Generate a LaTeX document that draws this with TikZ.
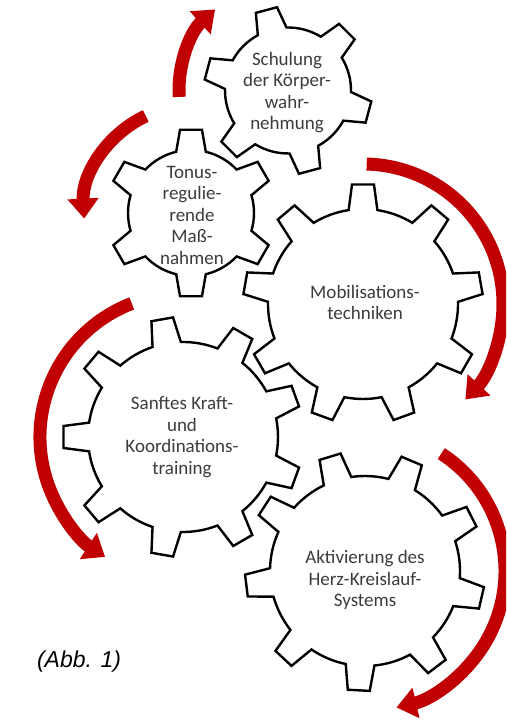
\documentclass[tikz,border=0pt]{standalone}
\usepackage{fontspec}
\setmainfont{Carlito}
\newfontfamily\abbfont{Liberation Sans}
\usetikzlibrary{arrows.meta}
\definecolor{arrowred}{RGB}{192,0,0}
\definecolor{txtgray}{RGB}{60,60,60}
% #1 center name, #2 teeth, #3 offset angle, #4 outer R, #5 root r, #6 outer half-angle, #7 root half-angle
\newcommand\drawgear[7]{%
  \pgfmathsetmacro\gstep{360/#2}%
  \draw[gearline,shift={(#1)}] ({#3-#7}:#5)
  \foreach \k in {1,...,#2}{ -- ({#3+(\k-1)*\gstep-#7}:#5) -- ({#3+(\k-1)*\gstep-#6}:#4) -- ({#3+(\k-1)*\gstep+#6}:#4) -- ({#3+(\k-1)*\gstep+#7}:#5) arc[start angle={#3+(\k-1)*\gstep+#7}, end angle={#3+\k*\gstep-#7}, radius=#5] } -- cycle;%
}
\begin{document}
\begin{tikzpicture}[x=1pt,y=1pt,
  gearline/.style={draw=black, line width=2.4pt, fill=white, line join=miter},
  geartext/.style={align=center, text=txtgray, font=\fontsize{19}{21.5}\selectfont, inner sep=0pt},
  cyclearrow/.style={draw=arrowred, line width=13pt, -{Triangle[width=30pt,length=20pt]}},
]
\useasboundingbox (0,0) rectangle (506,725);
\clip (0,0) rectangle (506,725);

% gear centres
\coordinate (S) at (288,634.5);
\coordinate (T) at (191,512);
\coordinate (M) at (363,421);
\coordinate (K) at (183,288);
\coordinate (A) at (365,154);

% arrows
\draw[cyclearrow] ([shift={(183.4:109)}]S) arc[start angle=183.4, end angle=132, radius=109];
\draw[cyclearrow] ([shift={(115:107)}]T) arc[start angle=115, end angle=183, radius=107];
\draw[cyclearrow] ([shift={(88.5:140)}]M) arc[start angle=88.5, end angle=-43, radius=140];
\draw[cyclearrow] ([shift={(111:143)}]K) arc[start angle=111, end angle=237, radius=143];
\draw[cyclearrow] ([shift={(57:140)}]A) arc[start angle=57, end angle=-77, radius=140];

% gears
\drawgear{S}{6}{105}{84}{63}{7.5}{13.6}
\drawgear{T}{6}{90}{84}{63}{7.5}{13.6}
\drawgear{M}{9}{90}{120}{95}{5.25}{8.7}
\drawgear{K}{9}{180}{120}{95}{5.25}{8.7}
\drawgear{A}{9}{267}{120}{95}{5.25}{8.7}

% texts
\node[geartext] (tS) at (287,632.5) {Schulung\\der Körper-\\wahr-\\nehmung};
\node[geartext] (tT) at (192,510) {Tonus-\\regulie-\\rende\\Maß-\\nahmen};
\node[geartext] (tM) at (365,422.5) {Mobilisations-\\techniken};
\node[geartext] (tK) at (182,288) {Sanftes Kraft-\\und\\Koordinations-\\training};
\node[geartext] (tA) at (365,145) {Aktivierung des\\Herz-Kreislauf-\\Systems};

\node[font=\abbfont\itshape\fontsize{23}{26}\selectfont, inner sep=0pt] (abb) at (79,63) {(Abb. 1)};
\end{tikzpicture}
\end{document}
